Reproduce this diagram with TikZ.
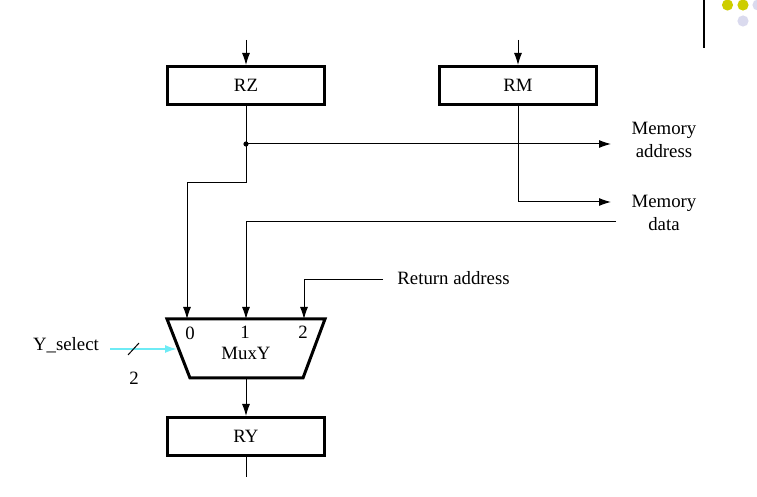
\documentclass[tikz,border=0pt]{standalone}
\usepackage{fontspec}
\setmainfont{Liberation Serif}
\usetikzlibrary{arrows.meta,positioning}
\definecolor{selcyan}{RGB}{110,235,245}
\definecolor{dotyellow}{RGB}{205,205,0}
\definecolor{dotlav}{RGB}{218,218,238}

\tikzset{
  reg/.style={draw, line width=1.5pt, minimum width=78.5pt, minimum height=19pt, inner sep=0pt},
  wire/.style={line width=0.5pt},
  lbl/.style={inner sep=0pt, align=center}
}

\begin{document}
\begin{tikzpicture}[>={Latex[length=6pt,width=4pt]}, x=0.5pt, y=-0.5pt, font=\fontsize{9.4}{11.5}\selectfont]
	\useasboundingbox (0,0) rectangle (757,497);
	%\draw [help lines] (0,0) grid (757,497);
	% registers
	\node [reg] (RZ) at (246,85.5) {RZ};
	\node [reg] (RM) at (518,85.5) {RM};
	\node [reg] (RY) at (246,436.5) {RY};
	% multiplexer
	\coordinate (mtl) at (167,319);
	\coordinate (mtr) at (325,319);
	\coordinate (mbr) at (303,378);
	\coordinate (mbl) at (190,378);
	\draw [line width=1.5pt, line join=miter] (mtl) -- (mtr) -- (mbr) -- (mbl) -- cycle;
	\node [lbl] (in0) at (190,333) {0};
	\node [lbl] (in1) at (245,332) {1};
	\node [lbl] (in2) at (303,332) {2};
	\node [lbl] (MuxY) at (246,353) {MuxY};
	% texts
	\node [lbl] (maddr) at (664,140) {Memory\\address};
	\node [lbl] (mdata) at (664,213) {Memory\\data};
	\node [lbl, anchor=west] (ret) at (397,278) {Return address};
	\node [lbl] (ysel) at (66,345) {Y\_select};
	\node [lbl] (ywidth) at (134,378) {2};
	% free ends
	\coordinate (RZin) at (246,40);
	\coordinate (RMin) at (518,40);
	\coordinate (RYout) at (246,477);
	\coordinate (split) at (246,144);
	\coordinate (addrend) at (611,144);
	\coordinate (dataend) at (611,202);
	\coordinate (datain) at (616,222);
	\coordinate (retin) at (383,280);
	\coordinate (mux0) at (187,319);
	\coordinate (mux1) at (246,319);
	\coordinate (mux2) at (304,319);
	\coordinate (ystart) at (110,349);
	\coordinate (yend) at (177,349);
	% wires
	\draw [wire, ->] (RZin) -- (RZ.north);
	\draw [wire, ->] (RMin) -- (RM.north);
	\draw [wire] (RZ.south) -- (split);
	\fill (split) circle (1.3pt);
	\draw [wire, ->] (split) -- (addrend);
	\draw [wire, ->] (split) -- (246,183) -| (mux0);
	\draw [wire, ->] (RM.south) |- (dataend);
	\draw [wire, ->] (datain) -| (mux1);
	\draw [wire, ->] (retin) -| (mux2);
	\draw [wire, ->] (MuxY.center |- mbl) -- (RY.north);
	\draw [wire] (RY.south) -- (RYout);
	% select input
	\draw [selcyan, line width=0.9pt, ->] (ystart) -- (yend);
	\draw [wire] (128,355) -- (139,343);
	% corner decoration
	\draw [line width=0.7pt] (704,0) -- (704,48);
	\fill [dotyellow] (727.5,5) circle (2.8pt);
	\fill [dotyellow] (743,5) circle (2.8pt);
	\fill [dotlav] (758,5) circle (2.8pt);
	\fill [dotlav] (743,21) circle (2.8pt);
\end{tikzpicture}
\end{document}
